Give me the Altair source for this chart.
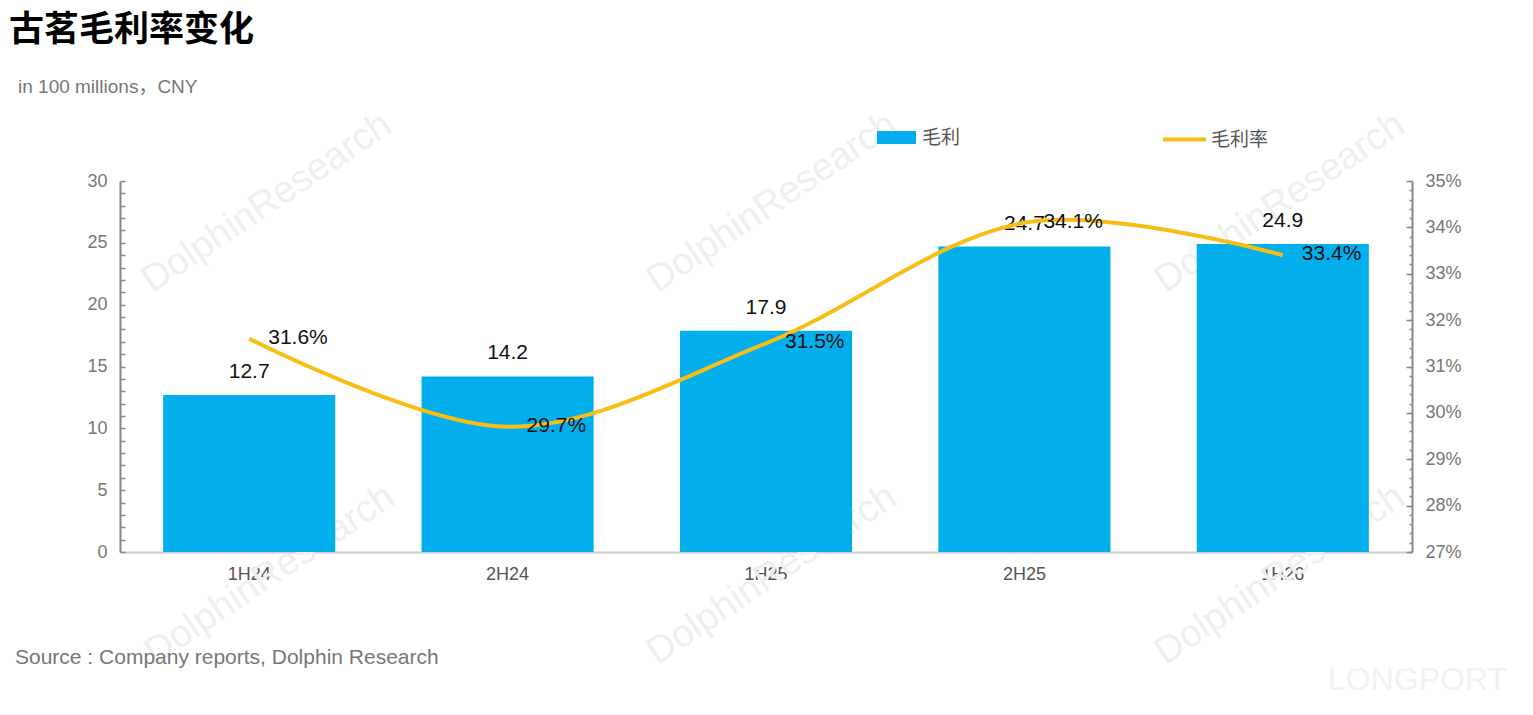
import altair as alt
import pandas as pd

# ---- data ----
periods = ["1H24", "2H24", "1H25", "2H25", "1H26"]
gross_profit = [12.7, 14.2, 17.9, 24.7, 24.9]
gross_margin = [31.6, 29.7, 31.5, 34.1, 33.4]
bar_name = "毛利"
line_name = "毛利率"
title_text = "古茗毛利率变化"
subtitle_text = "in 100 millions，CNY"
source_text = "Source : Company reports, Dolphin Research"
watermark_text = "DolphinResearch"
brand_text = "LONGPORT"
left_ticks = list(range(0, 31))
right_ticks = [round(27 + 0.2 * i, 1) for i in range(41)]
right_major = list(range(27, 36))

FONT = "Liberation Sans, Helvetica, Arial, Noto Sans CJK SC, sans-serif"
CJK = "Noto Sans CJK SC, Liberation Sans, sans-serif"
BLUE = "#02AEEC"
YELLOW = "#F7BE16"

df = pd.DataFrame({
    "period": periods,
    "gp": gross_profit,
    "gm": gross_margin,
    "s1": [bar_name] * len(periods),
    "s2": [line_name] * len(periods),
})
one = pd.DataFrame({"k": [0]})

x_enc = alt.X(
    "period:N", sort=periods,
    scale=alt.Scale(paddingInner=0.334, paddingOuter=0.167),
    axis=alt.Axis(title=None, labelAngle=0, ticks=False, domainColor="#cccccc",
                  domainWidth=2, labelFontSize=18, labelColor="#555555",
                  labelPadding=13, labelFont=FONT, grid=False),
)

left_scale = alt.Scale(domain=[0, 30], nice=False, zero=True)
right_scale = alt.Scale(domain=[27, 35], nice=False, zero=False)

bars = alt.Chart(df).mark_bar(color=BLUE).encode(
    x=x_enc,
    y=alt.Y("gp:Q", scale=left_scale,
            axis=alt.Axis(title=None, values=left_ticks, tickCount=len(left_ticks),
                          grid=False,
                          labelExpr="datum.value % 5 === 0 ? datum.label : ''",
                          labelOverlap=False, tickSize={"expr": "-5"},
                          tickColor="#888888", tickWidth=1.5,
                          domainColor="#888888", domainWidth=2,
                          labelFontSize=18, labelColor="#777777",
                          labelFont=FONT, labelPadding=18)),
    color=alt.Color("s1:N", scale=alt.Scale(domain=[bar_name], range=[BLUE]),
                    legend=alt.Legend(orient="none", legendX=757, legendY=-63,
                                      title=None,
                                      symbolType="M-1,-0.33H1V0.33H-1Z",
                                      symbolSize=1521, symbolStrokeWidth=0,
                                      labelFontSize=19, labelColor="#555555",
                                      labelFont=CJK, labelOffset=6)),
)
bar_labels = alt.Chart(df).mark_text(dy=-23, fontSize=21, color="#111111",
                                     font=FONT).encode(
    x=alt.X("period:N", sort=periods),
    y=alt.Y("gp:Q", scale=left_scale),
    text=alt.Text("gp:Q", format=".1f"),
)

line = alt.Chart(df).mark_line(interpolate="cardinal", strokeWidth=4).encode(
    x=alt.X("period:N", sort=periods),
    y=alt.Y("gm:Q", scale=right_scale,
            axis=alt.Axis(title=None, orient="right", values=right_ticks,
                          tickCount=len(right_ticks), grid=False,
                          labelExpr="abs(datum.value - round(datum.value)) < 0.001 ? round(datum.value) + '%' : ''",
                          labelOverlap=False, tickSize={"expr": "-3"},
                          tickColor="#888888", tickWidth=1.5,
                          domainColor="#888888", domainWidth=2,
                          labelFontSize=18, labelColor="#777777",
                          labelFont=FONT, labelPadding=16)),
    stroke=alt.Stroke("s2:N", scale=alt.Scale(domain=[line_name], range=[YELLOW]),
                      legend=alt.Legend(orient="none", legendX=1041, legendY=-65,
                                        title=None, symbolType="stroke",
                                        symbolSize=1849, symbolStrokeWidth=4,
                                        labelFontSize=19, labelColor="#555555",
                                        labelFont=CJK, labelOffset=3)),
)
# second (invisible) layer on the same right scale: longer ticks at whole percents
major_ticks_layer = alt.Chart(df).mark_line(opacity=0).encode(
    x=alt.X("period:N", sort=periods),
    y=alt.Y("gm:Q", scale=right_scale,
            axis=alt.Axis(title=None, orient="right", values=right_major,
                          tickCount=len(right_major), grid=False, labels=False,
                          domain=False, tickSize={"expr": "-6"},
                          tickColor="#888888", tickWidth=1.5)),
)
line_labels = alt.Chart(df).transform_calculate(
    lab="format(datum.gm, '.1f') + '%'"
).mark_text(align="left", dx=19, dy=-1, fontSize=21, color="#111111",
            font=FONT).encode(
    x=alt.X("period:N", sort=periods),
    y=alt.Y("gm:Q", scale=right_scale),
    text="lab:N",
)

# watermarks
wm_pos = [(147, 22), (652, 22), (1160, 22), (150, 394), (652, 394), (1160, 394)]
watermarks = [
    alt.Chart(one).mark_text(text=watermark_text, angle=326, fontSize=38,
                             color="#efefef", font=FONT).encode(
        x=alt.value(px), y=alt.value(py))
    for px, py in wm_pos
]
brand = alt.Chart(one).mark_text(text=brand_text, align="left", fontSize=32,
                                 color="#f2f2f2", font=FONT).encode(
    x=alt.value(1208), y=alt.value(499))

title = alt.Chart(one).mark_text(text=title_text, align="left", baseline="middle",
                                 fontSize=35, fontWeight="bold", color="#000000",
                                 font=CJK).encode(x=alt.value(-111), y=alt.value(-151))
subtitle = alt.Chart(one).mark_text(text=subtitle_text, align="left", baseline="middle",
                                    fontSize=19, color="#777777",
                                    font=FONT).encode(x=alt.value(-102), y=alt.value(-94))
source = alt.Chart(one).mark_text(text=source_text, align="left", baseline="middle",
                                  fontSize=21, color="#777777",
                                  font=FONT).encode(x=alt.value(-105), y=alt.value(477))

chart = alt.layer(
    *watermarks, brand,
    alt.layer(bars, bar_labels),
    alt.layer(line, line_labels),
    major_ticks_layer,
    title, subtitle, source,
).resolve_scale(y="independent").properties(
    width=1292, height=371,
    autosize=alt.AutoSizeParams(type="none"),
    padding={"left": 112, "top": 173, "right": 110, "bottom": 150},
    background="white",
).configure_view(stroke=None)

chart.save("out.html", embed_options={"renderer": "svg", "actions": False})
